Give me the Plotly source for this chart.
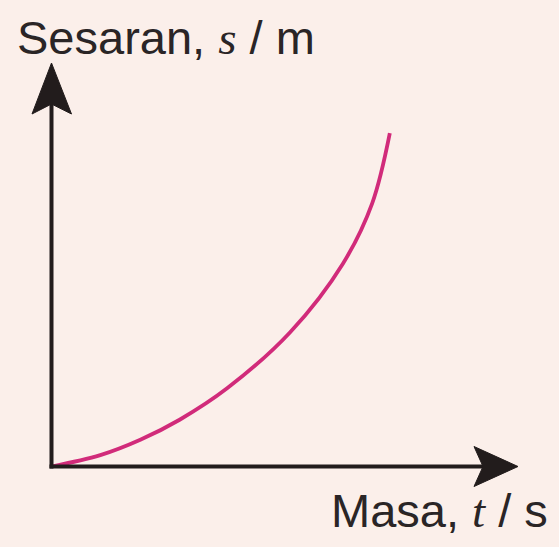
import plotly.graph_objects as go

# Displacement-time curve (arbitrary units): accelerating motion
masa_t = [0.0, 0.72, 1.31, 1.89, 2.59, 3.52, 4.30, 4.73, 4.99]
sesaran_s = [0.0, 0.17, 0.40, 0.70, 1.17, 2.01, 3.04, 3.94, 4.99]

W, H = 559, 547
BG = "#FBEFEA"
INK = "#221C1C"
CURVE = "#D12B7A"

# pixel scale of the plotting axes
ORIGIN_X, ORIGIN_Y = 51.5, 466.5
PX_PER_T, PX_PER_S = 67.8, 66.8


def px(x):
    return x / W


def py(y):
    return 1 - y / H


fig = go.Figure()
fig.add_trace(go.Scatter(
    x=masa_t, y=sesaran_s, mode="lines",
    line=dict(color=CURVE, width=3.8, shape="spline", smoothing=1.0),
    hoverinfo="skip", showlegend=False,
))

shapes = [
    # vertical axis
    dict(type="line", xref="paper", yref="paper",
         x0=px(ORIGIN_X), y0=py(ORIGIN_Y + 2), x1=px(ORIGIN_X), y1=py(100),
         line=dict(color=INK, width=4)),
    # horizontal axis
    dict(type="line", xref="paper", yref="paper",
         x0=px(ORIGIN_X - 2), y0=py(ORIGIN_Y), x1=px(488), y1=py(ORIGIN_Y),
         line=dict(color=INK, width=4)),
    # arrowhead on the s axis
    dict(type="path", xref="paper", yref="paper",
         path=(f"M {px(ORIGIN_X)} {py(63)} L {px(71.5)} {py(114)} "
               f"L {px(ORIGIN_X)} {py(104)} L {px(32)} {py(114)} Z"),
         fillcolor=INK, line=dict(color=INK, width=1)),
    # arrowhead on the t axis
    dict(type="path", xref="paper", yref="paper",
         path=(f"M {px(518)} {py(ORIGIN_Y)} L {px(474)} {py(446.5)} "
               f"L {px(483)} {py(ORIGIN_Y)} L {px(474)} {py(486.5)} Z"),
         fillcolor=INK, line=dict(color=INK, width=1)),
]

SANS = "Liberation Sans, Arial, sans-serif"
ITAL = "<span style='font-family:Liberation Serif, Times New Roman, serif'><i>{}</i></span>"

annotations = [
    dict(text="Sesaran, " + ITAL.format("s") + " / m",
         xref="paper", yref="paper", x=px(15), y=py(37),
         xanchor="left", yanchor="middle", showarrow=False,
         font=dict(family=SANS, size=47, color="#2A2526")),
    dict(text="Masa, " + ITAL.format("t") + " / s",
         xref="paper", yref="paper", x=px(550), y=py(510),
         xanchor="right", yanchor="middle", showarrow=False,
         font=dict(family=SANS, size=47, color="#2A2526")),
]

x_lo = -ORIGIN_X / PX_PER_T
y_lo = -(H - ORIGIN_Y) / PX_PER_S

fig.update_layout(
    width=W, height=H,
    margin=dict(l=0, r=0, t=0, b=0),
    paper_bgcolor=BG, plot_bgcolor=BG,
    xaxis=dict(range=[x_lo, x_lo + W / PX_PER_T], visible=False, fixedrange=True),
    yaxis=dict(range=[y_lo, y_lo + H / PX_PER_S], visible=False, fixedrange=True),
    shapes=shapes, annotations=annotations,
)

fig.write_html("out.html", config={"displayModeBar": False})
